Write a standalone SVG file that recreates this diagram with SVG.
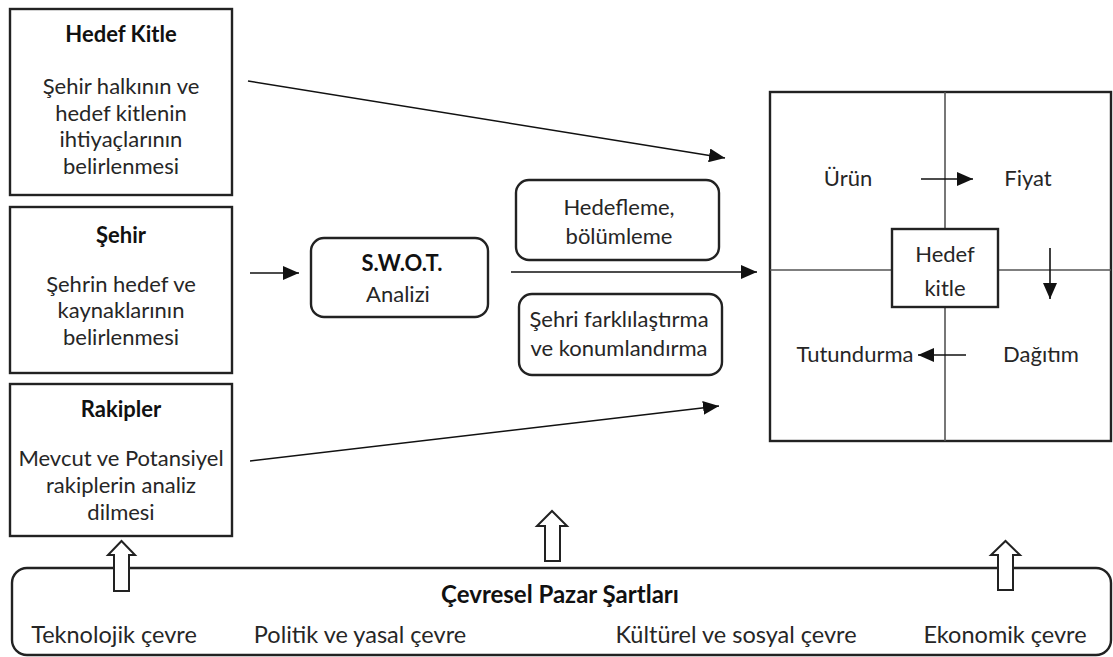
<svg xmlns="http://www.w3.org/2000/svg" width="1113" height="657" viewBox="0 0 1113 657">
<style>
  .box { fill: #fff; stroke: #222; stroke-width: 2.4; }
  .rbox { fill: #fff; stroke: #222; stroke-width: 2.4; }
  .div { stroke: #555; stroke-width: 1.6; fill: none; }
  .t { font-family: Lato, "Liberation Sans", sans-serif; font-size: 22px; fill: #262626; text-anchor: middle; }
  .b { font-weight: bold; fill: #111; }
  .bt { font-size: 23.5px; }
  .c { stroke: #111; stroke-width: 1.6; fill: none; marker-end: url(#ah); }
  .blk { fill: #fff; stroke: #222; stroke-width: 2; stroke-linejoin: miter; }
</style>
<defs>
  <marker id="ah" markerUnits="userSpaceOnUse" markerWidth="18" markerHeight="14" refX="16" refY="7" orient="auto">
    <path d="M0,0 L16,7 L0,14 Z" fill="#111"/>
  </marker>
</defs>
<rect width="1113" height="657" fill="#fff"/>

<g id="node-hedef-kitle">
  <rect class="box" x="10" y="9" width="222" height="186"/>
  <text class="t b" x="121" y="42">Hedef Kitle</text>
  <text class="t" x="121" y="94">Şehir halkının ve</text>
  <text class="t" x="121" y="121">hedef kitlenin</text>
  <text class="t" x="121" y="147">ihtiyaçlarının</text>
  <text class="t" x="121" y="174">belirlenmesi</text>
</g>

<g id="node-sehir">
  <rect class="box" x="10" y="207" width="222" height="166"/>
  <text class="t b" x="121" y="243">Şehir</text>
  <text class="t" x="121" y="292">Şehrin hedef ve</text>
  <text class="t" x="121" y="318">kaynaklarının</text>
  <text class="t" x="121" y="345">belirlenmesi</text>
</g>

<g id="node-rakipler">
  <rect class="box" x="10" y="384" width="222" height="152"/>
  <text class="t b" x="121" y="417">Rakipler</text>
  <text class="t" x="121" y="466">Mevcut ve Potansiyel</text>
  <text class="t" x="121" y="493">rakiplerin analiz</text>
  <text class="t" x="121" y="520">dilmesi</text>
</g>

<g id="node-swot">
  <rect class="rbox" x="311" y="238" width="177" height="79" rx="13"/>
  <text class="t b" x="402" y="271">S.W.O.T.</text>
  <text class="t" x="398" y="302">Analizi</text>
</g>

<g id="node-hedefleme">
  <rect class="rbox" x="516" y="180" width="203" height="80" rx="13"/>
  <text class="t" x="619" y="215">Hedefleme,</text>
  <text class="t" x="619" y="244">bölümleme</text>
</g>

<g id="node-farklilastirma">
  <rect class="rbox" x="519" y="294" width="203" height="81" rx="13"/>
  <text class="t" x="619" y="327">Şehri farklılaştırma</text>
  <text class="t" x="619" y="356">ve konumlandırma</text>
</g>

<g id="node-pazarlama-karmasi">
  <rect class="box" x="770" y="92" width="341" height="349"/>
  <line class="div" x1="945" y1="92" x2="945" y2="229"/>
  <line class="div" x1="945" y1="307" x2="945" y2="441"/>
  <line class="div" x1="770" y1="270" x2="892" y2="270"/>
  <line class="div" x1="998" y1="270" x2="1111" y2="270"/>
  <text class="t" x="848" y="186">Ürün</text>
  <text class="t" x="1028" y="186">Fiyat</text>
  <text class="t" x="1041" y="362">Dağıtım</text>
  <text class="t" x="855" y="362">Tutundurma</text>
</g>

<g id="node-hedef-kitle-merkez">
  <rect class="box" x="892" y="229" width="106" height="78"/>
  <text class="t" x="945" y="262">Hedef</text>
  <text class="t" x="945" y="296">kitle</text>
</g>

<g id="node-cevresel">
  <rect class="rbox" x="12" y="568" width="1099" height="87" rx="15"/>
  <text class="t b" x="560" y="603" style="font-size:24px">Çevresel Pazar Şartları</text>
  <text class="t bt" x="114" y="643">Teknolojik çevre</text>
  <text class="t bt" x="360" y="643">Politik ve yasal çevre</text>
  <text class="t bt" x="736" y="643">Kültürel ve sosyal çevre</text>
  <text class="t bt" x="1005" y="643">Ekonomik çevre</text>
</g>

<g id="connectors">
  <line class="c" x1="248" y1="81" x2="725" y2="158"/>
  <line class="c" x1="250" y1="461" x2="719" y2="406"/>
  <line class="c" x1="250" y1="273" x2="299" y2="273"/>
  <line class="c" x1="511" y1="272" x2="757" y2="272"/>
  <line class="c" x1="921" y1="179" x2="973" y2="179"/>
  <line class="c" x1="1050" y1="248" x2="1050" y2="299"/>
  <line class="c" x1="966" y1="355" x2="918" y2="355"/>
  <path class="blk" d="M114,591 L114,555 L108,555 L121.5,541 L135,555 L129,555 L129,591 Z"/>
  <path class="blk" d="M545,561 L545,526 L537,526 L552,511 L567,526 L560,526 L560,561 Z"/>
  <path class="blk" d="M998,590 L998,555 L991,555 L1005.5,541 L1020,555 L1013,555 L1013,590 Z"/>
</g>
</svg>
